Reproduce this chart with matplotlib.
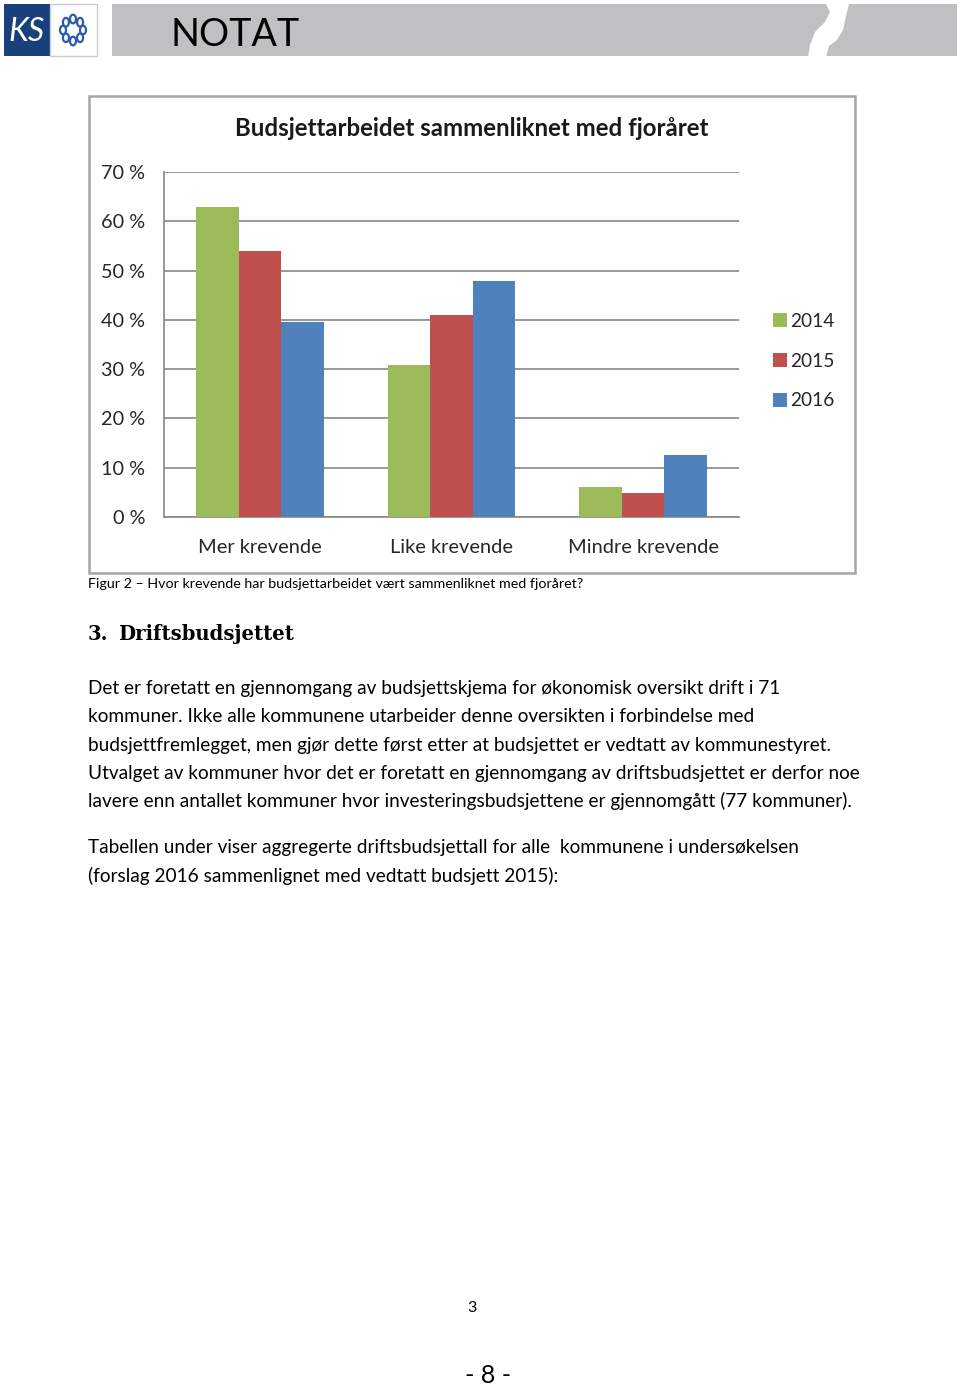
import matplotlib
matplotlib.use("Agg")
import matplotlib.pyplot as plt
import numpy as np
from matplotlib.patches import Rectangle, Polygon, Circle
from matplotlib.textpath import TextPath
from matplotlib.font_manager import FontProperties

# ---------- DATA ----------
categories = ["Mer krevende", "Like krevende", "Mindre krevende"]
years = ["2014", "2015", "2016"]
values_2014 = [63.0, 30.9, 6.0]
values_2015 = [54.0, 41.0, 4.8]
values_2016 = [39.5, 47.9, 12.6]
yticks = [0, 10, 20, 30, 40, 50, 60, 70]
ytick_labels = ["0 %", "10 %", "20 %", "30 %", "40 %", "50 %", "60 %", "70 %"]

chart_title = "Budsjettarbeidet sammenliknet med fjoråret"
caption = "Figur 2 \u2013 Hvor krevende har budsjettarbeidet vært sammenliknet med fjoråret?"
heading_num = "3."
heading = "Driftsbudsjettet"
para1 = [
    "Det er foretatt en gjennomgang av budsjettskjema for økonomisk oversikt drift i 71",
    "kommuner. Ikke alle kommunene utarbeider denne oversikten i forbindelse med",
    "budsjettfremlegget, men gjør dette først etter at budsjettet er vedtatt av kommunestyret.",
    "Utvalget av kommuner hvor det er foretatt en gjennomgang av driftsbudsjettet er derfor noe",
    "lavere enn antallet kommuner hvor investeringsbudsjettene er gjennomgått (77 kommuner).",
]
para2 = [
    "Tabellen under viser aggregerte driftsbudsjettall for alle  kommunene i undersøkelsen",
    "(forslag 2016 sammenlignet med vedtatt budsjett 2015):",
]

COLORS = ["#9BBB59", "#C0504D", "#4F81BD"]
SANS = "Lato"
W, H = 960, 1386


def px(x, y):
    """pixel coords (top-left origin) -> figure fraction"""
    return x / W, 1 - y / H


def fit(s, width_px, **kw):
    """font size (pt) so that string s spans width_px pixels"""
    w = TextPath((0, 0), s, size=10, prop=FontProperties(**kw)).get_extents().width
    return 10 * width_px * 0.72 / w


fig = plt.figure(figsize=(W / 100, H / 100), dpi=100)
fig.patch.set_facecolor("white")

# ---------- header ----------
fig.patches.append(Rectangle(px(4, 56), 46 / W, 52 / H, transform=fig.transFigure,
                             facecolor="#17407d", edgecolor="none"))
fig.patches.append(Rectangle(px(50, 56), 47 / W, 52 / H, transform=fig.transFigure,
                             facecolor="white", edgecolor="#c8ccd4", lw=1))
fig.text(*px(27, 41), "KS", color="white", fontsize=fit("KS", 34, family=SANS, style="italic"),
         family=SANS, style="italic", ha="center", va="baseline")
for a in np.linspace(0, 2 * np.pi, 9)[:-1]:
    cx, cy = 73 + 10 * np.cos(a), 30 + 11 * np.sin(a)
    fig.patches.append(Circle(px(cx, cy), 3.0 / W, transform=fig.transFigure,
                              facecolor="white", edgecolor="#2a5caa", lw=1.6))
fig.patches.append(Rectangle(px(112, 56), (957 - 112) / W, 52 / H, transform=fig.transFigure,
                             facecolor="#bfc0c2", edgecolor="none"))
slash = [(826, 4), (830, 12), (825, 22), (815, 32), (810, 45), (808, 57),
         (826, 57), (829, 46), (837, 40), (843, 30), (846, 16), (849, 4)]
fig.patches.append(Polygon([px(x, y) for x, y in slash], closed=True, transform=fig.transFigure,
                           facecolor="white", edgecolor="none"))
fig.text(*px(171, 46), "NOTAT", fontsize=fit("NOTAT", 125, family=SANS), family=SANS,
         color="black", ha="left", va="baseline")

# ---------- chart frame ----------
frame = Rectangle(px(89, 573), (855 - 89) / W, (573 - 96) / H, transform=fig.transFigure,
                  facecolor="white", edgecolor="#a6a6a6", lw=1.8, zorder=-5)
fig.patches.append(frame)
fig.text(*px(472, 136), chart_title,
         fontsize=fit(chart_title, 472, family=SANS, weight="bold"),
         family=SANS, weight="bold", color="#1a1a1a", ha="center", va="baseline")

ax = fig.add_axes([164 / W, (H - 517) / H, (739 - 164) / W, (517 - 172) / H])
ax.set_zorder(3)
ax.patch.set_alpha(0)
x = np.arange(len(categories))
bw = 0.2222
for i, (vals, c) in enumerate(zip([values_2014, values_2015, values_2016], COLORS)):
    ax.bar(x + (i - 1) * bw, vals, width=bw, color=c, label=years[i], zorder=3)

ax.set_xlim(-0.5, 2.5)
ax.set_ylim(0, 70)
tick_fs = fit("70 %", 42, family=SANS)
ax.set_yticks(yticks, ytick_labels, fontsize=tick_fs, family=SANS, color="#262626")
ax.set_xticks(x, categories, fontsize=fit("Mer krevende", 121, family=SANS),
              family=SANS, color="#262626")
ax.tick_params(axis="y", length=0, pad=13.5)
ax.tick_params(axis="x", length=0, pad=15.5)
ax.grid(axis="y", color="#868686", lw=1.2, zorder=0)
for s in ["top", "right"]:
    ax.spines[s].set_visible(False)
for s in ["left", "bottom"]:
    ax.spines[s].set_color("#868686")
    ax.spines[s].set_linewidth(1.2)

leg_fs = fit("2014", 43, family=SANS)
leg = fig.legend(loc="upper left", bbox_to_anchor=px(773, 313), frameon=False, borderpad=0,
                 borderaxespad=0, prop={"family": SANS, "size": leg_fs}, handlelength=0.75,
                 handleheight=0.75, handletextpad=0.15, labelspacing=1.18, labelcolor="#262626")
leg.set_zorder(4)

# ---------- text below chart ----------
fig.text(*px(88, 588), caption, fontsize=fit(caption, 492, family=SANS), family=SANS,
         color="black", ha="left", va="baseline")
hfs = fit(heading, 174, family="DejaVu Serif", weight="bold")
fig.text(*px(88, 640), heading_num, fontsize=hfs, family="DejaVu Serif", weight="bold",
         color="black", ha="left", va="baseline")
fig.text(*px(118, 640), heading, fontsize=hfs, family="DejaVu Serif", weight="bold",
         color="black", ha="left", va="baseline")

body_fs = fit(para1[3], 767, family=SANS)
for i, line in enumerate(para1):
    fig.text(*px(88, 694 + i * 28.3), line, fontsize=body_fs, family=SANS,
             color="black", ha="left", va="baseline")
for i, line in enumerate(para2):
    fig.text(*px(88, 853 + i * 28.7), line, fontsize=body_fs, family=SANS,
             color="black", ha="left", va="baseline")

fig.text(*px(472, 1312), "3", fontsize=body_fs * 0.85, family=SANS, color="black",
         ha="center", va="baseline")
fig.text(*px(488, 1383), "- 8 -", fontsize=fit("- 8 -", 43, family=SANS), family=SANS,
         color="black", ha="center", va="baseline")

fig.savefig("out.png", dpi=100)
